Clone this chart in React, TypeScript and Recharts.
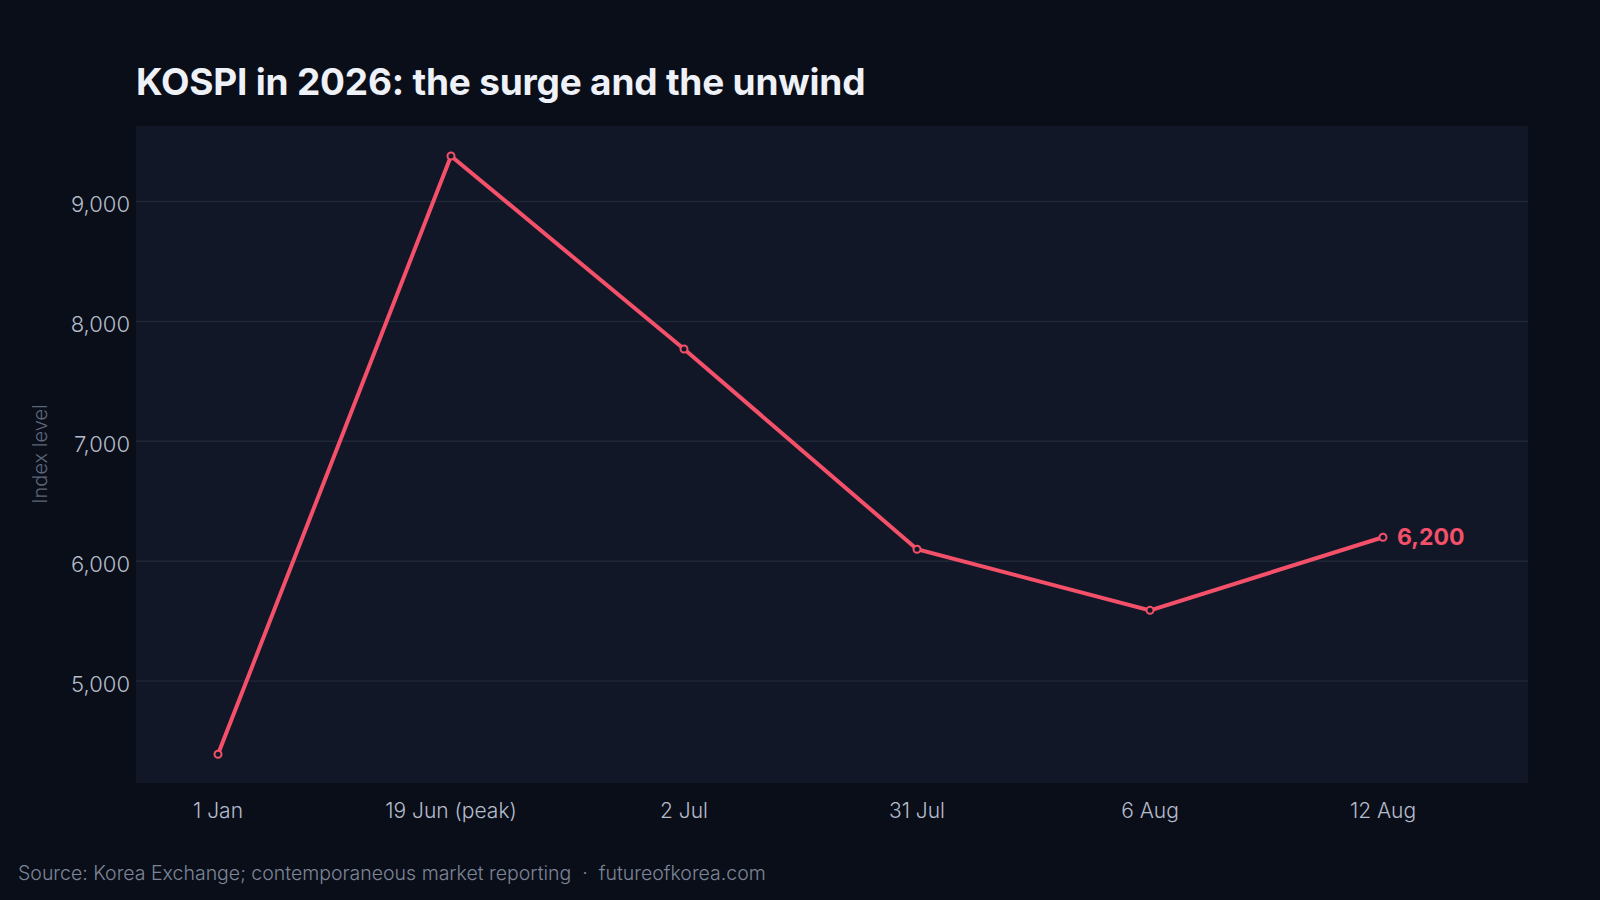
import { CartesianGrid, LabelList, Line, LineChart, XAxis, YAxis } from 'recharts'

const dates = ['1 Jan', '19 Jun (peak)', '2 Jul', '31 Jul', '6 Aug', '12 Aug']
const kospi = [4390, 9380, 7770, 6100, 5590, 6200]
const yTicks = [5000, 6000, 7000, 8000, 9000]
const yDomain = [4150, 9630]

const data = dates.map((date, i) => ({ date, value: kospi[i] }))

const RED = '#f4506a'
const FONT = 'Inter, "Noto Sans", sans-serif'

const fmt = (v: number) => v.toLocaleString('en-US')

function LastLabel(props: any) {
  const { x, y, value, index } = props
  if (index !== data.length - 1) return null
  return (
    <text x={x + 14} y={y} dy={8} fill={RED} fontSize={23} fontWeight={700} fontFamily={FONT}>
      {fmt(value)}
    </text>
  )
}

// grid lines only at the labelled ticks
const gridRows = ({ yAxis, offset }: any) => {
  if (yAxis && typeof yAxis.scale === 'function') return yTicks.map((t) => yAxis.scale(t))
  const [lo, hi] = yDomain
  return yTicks.map((t) => offset.top + (offset.height * (hi - t)) / (hi - lo))
}

function App() {
  return (
    <div style={{ position: 'fixed', left: 0, top: 0, width: 1600, height: 900, background: '#0a0e19' }}>
      <LineChart
        width={1600}
        height={900}
        data={data}
        margin={{ top: 126, right: 72, bottom: 57, left: 0 }}
      >
        <CartesianGrid
          vertical={false}
          stroke="#1f2637"
          strokeWidth={1.5}
          fill="#111726"
          horizontalCoordinatesGenerator={gridRows}
        />
        <XAxis
          dataKey="date"
          padding={{ left: 82, right: 145 }}
          axisLine={false}
          tickLine={false}
          tickSize={0}
          tickMargin={20}
          height={60}
          tick={{ fill: '#b4bccb', fontSize: 21, fontFamily: FONT, fontWeight: 300 }}
        />
        <YAxis
          domain={yDomain}
          ticks={yTicks}
          tickFormatter={fmt}
          width={136}
          axisLine={false}
          tickLine={false}
          tickSize={0}
          tickMargin={6}
          tick={{ fill: '#b4bccb', fontSize: 22, fontFamily: FONT, fontWeight: 300, dy: 3 }}
        />
        <Line
          dataKey="value"
          type="linear"
          stroke={RED}
          strokeWidth={4}
          dot={{ r: 3.5, stroke: RED, strokeWidth: 2, fill: '#111726' }}
          activeDot={false}
          isAnimationActive={false}
        >
          <LabelList dataKey="value" content={LastLabel} />
        </Line>
      </LineChart>
      <svg width={1600} height={900} style={{ position: 'absolute', left: 0, top: 0, pointerEvents: 'none' }}>
        <text x={136} y={95} fill="#eef1f7" fontSize={37} fontWeight={700} fontFamily={FONT} letterSpacing={-0.2}>
          KOSPI in 2026: the surge and the unwind
        </text>
        <text
          x={40}
          y={454}
          transform="rotate(-90 40 454)"
          textAnchor="middle"
          dominantBaseline="central"
          fill="#5d667a"
          fontSize={20}
          fontFamily={FONT}
          fontWeight={300}
        >
          Index level
        </text>
        <text x={18} y={880} fill="#7d8597" fontSize={19.5} fontFamily={FONT} fontWeight={300}>
          Source: Korea Exchange; contemporaneous market reporting {'\u00a0·\u00a0'} futureofkorea.com
        </text>
      </svg>
    </div>
  )
}

export default App
